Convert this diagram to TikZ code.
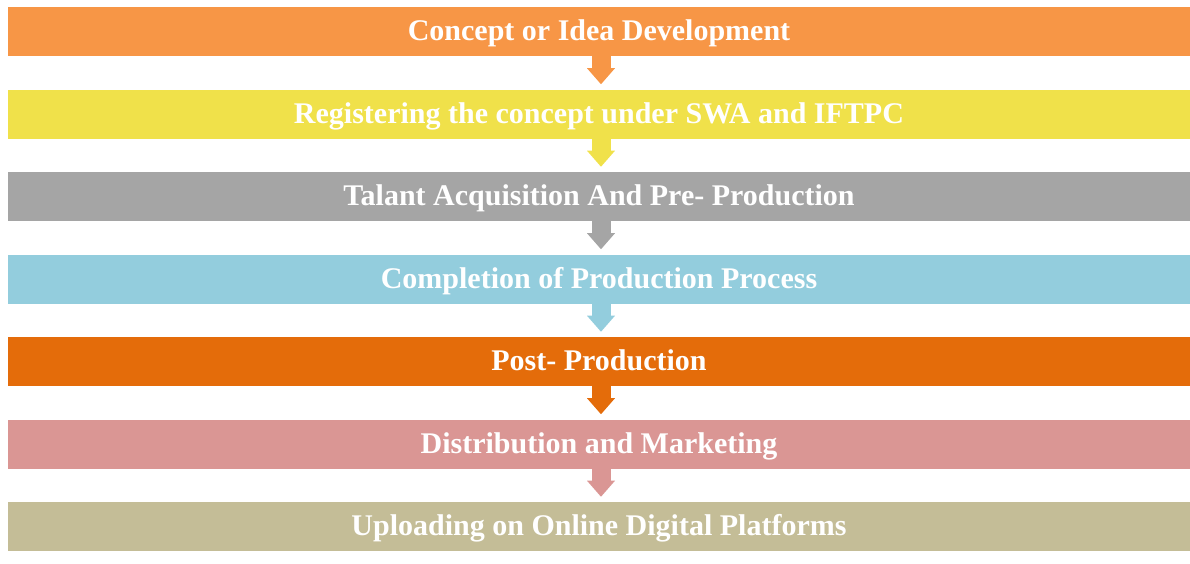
\documentclass[tikz,border=0pt]{standalone}
\usepackage{fontspec}
\setmainfont{Liberation Serif}
\usetikzlibrary{arrows.meta}

\definecolor{cconcept}{HTML}{F79646}
\definecolor{cregister}{HTML}{F0E14A}
\definecolor{ctalent}{HTML}{A5A5A5}
\definecolor{cprod}{HTML}{93CDDD}
\definecolor{cpost}{HTML}{E46C0A}
\definecolor{cdistrib}{HTML}{DA9694}
\definecolor{cupload}{HTML}{C4BD97}

\begin{document}
\begin{tikzpicture}[x=0.75pt,y=-0.75pt]

        \useasboundingbox (0,0) rectangle (1190,564);

        \begin{scope}[every node/.style={rectangle,minimum width=886.5pt,minimum height=36.75pt,
            inner sep=0pt,text height=16pt,text depth=1.8pt,text=white,
            font=\fontsize{22.5}{26}\selectfont\bfseries}]
          \node[fill=cconcept]  (1) at (599,31.5)  {Concept or Idea Development};
          \node[fill=cregister] (2) at (599,114)   {Registering the concept under SWA and IFTPC};
          \node[fill=ctalent]   (3) at (599,196.5) {Talant Acquisition And Pre- Production};
          \node[fill=cprod]     (4) at (599,279)   {Completion of Production Process};
          \node[fill=cpost]     (5) at (599,361.5) {Post- Production};
          \node[fill=cdistrib]  (6) at (599,444)   {Distribution and Marketing};
          \node[fill=cupload]   (7) at (599,526.5) {Uploading on Online Digital Platforms};
        \end{scope}

        \begin{scope}[every edge/.style={draw,line width=14.25pt,shorten >=3.75pt,
            -{Triangle[width=21pt,length=12pt,line width=0pt]}}]
          \path ([xshift=1.5pt]1.south) edge[cconcept]  ([xshift=1.5pt]2.north);
          \path ([xshift=1.5pt]2.south) edge[cregister] ([xshift=1.5pt]3.north);
          \path ([xshift=1.5pt]3.south) edge[ctalent]   ([xshift=1.5pt]4.north);
          \path ([xshift=1.5pt]4.south) edge[cprod]     ([xshift=1.5pt]5.north);
          \path ([xshift=1.5pt]5.south) edge[cpost]     ([xshift=1.5pt]6.north);
          \path ([xshift=1.5pt]6.south) edge[cdistrib]  ([xshift=1.5pt]7.north);
        \end{scope}

      \end{tikzpicture}
\end{document}
